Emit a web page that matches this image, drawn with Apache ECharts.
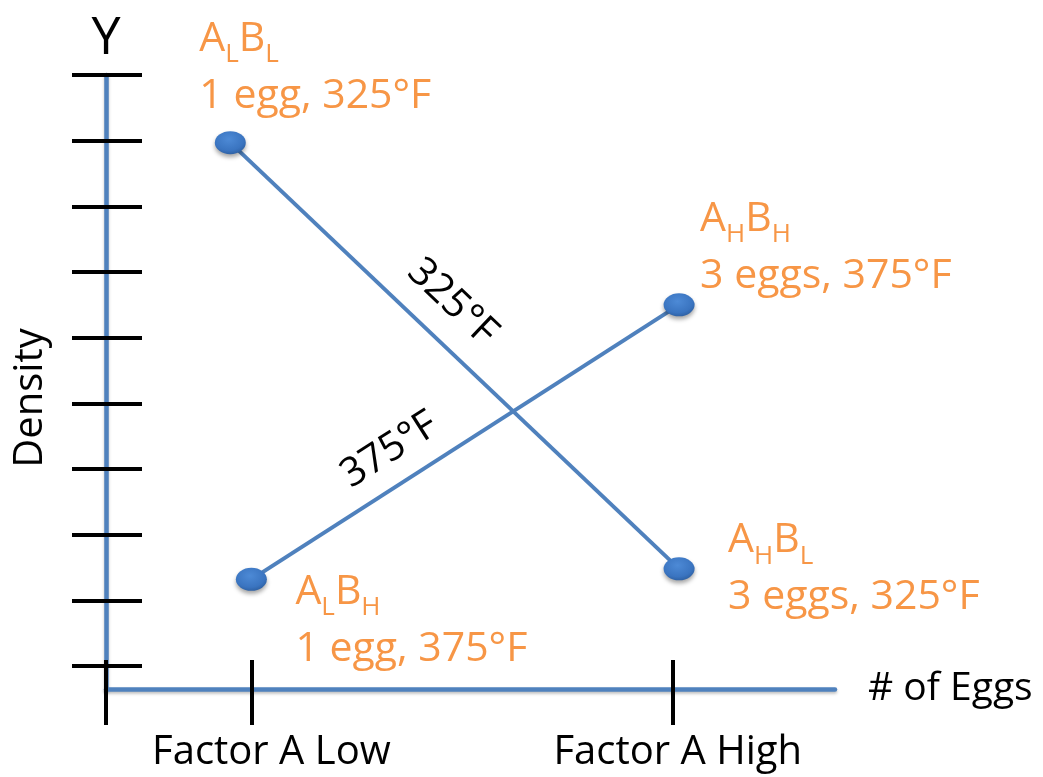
<!DOCTYPE html>
<html><head><meta charset="utf-8">
<script src="https://cdn.jsdelivr.net/npm/echarts@6/dist/echarts.min.js"></script>
<style>html,body{margin:0;padding:0;background:#fff}#c{width:1043px;height:777px}</style>
</head><body><div id="c"></div>
<script>
// ---- data ----
const categories = ['Factor A Low', 'Factor A High'];
const categoryEggs = [1, 3];
const yTicks = [0, 1, 2, 3, 4, 5, 6, 7, 8, 9];
const xTicks = [0.31, 1, 3];
const temps = ['325°F', '375°F'];

const x325 = [0.90, 3.03];
const y325 = [7.97, 1.48];
const subA325 = ['L', 'H'];
const subB325 = ['L', 'L'];
const desc325 = ['1 egg, 325°F', '3 eggs, 325°F'];

const x375 = [1.00, 3.03];
const y375 = [1.32, 5.50];
const subA375 = ['L', 'H'];
const subB375 = ['H', 'H'];
const desc375 = ['1 egg, 375°F', '3 eggs, 375°F'];

// ---- styles ----
const FONT = '"Open Sans", Lato, sans-serif';
const BLUE = '#4F81BD';
const ORANGE = '#F79646';
const off325 = [[-31, -132], [49, -56.5]];
const off375 = [[44, -15.5], [21, -114.5]];
const lineLabelT = [0.4375, 0.366];
const lineLabelPerp = [37, 34];

const rich = {
  m: { fontFamily: FONT, fontSize: 41, lineHeight: 57, color: ORANGE },
  s: { fontFamily: FONT, fontSize: 26, lineHeight: 57, color: ORANGE, padding: [31, 0, 0, 0] }
};

function buildData(xs, ys, sa, sb, desc, offs) {
  return xs.map((x, i) => ({
    value: [x, ys[i]],
    label: {
      show: true, position: 'inside', align: 'left', verticalAlign: 'top',
      offset: offs[i],
      formatter: '{m|A}{s|' + sa[i] + '}{m|B}{s|' + sb[i] + '}\n{m|' + desc[i] + '}',
      rich: rich
    }
  }));
}

const markerStyle = {
  color: {
    type: 'radial', x: 0.45, y: 0.35, r: 0.7,
    colorStops: [{ offset: 0, color: '#4D8AD6' }, { offset: 0.7, color: '#3A74C0' }, { offset: 1, color: '#2C5D9E' }]
  },
  shadowColor: 'rgba(0,0,0,0.35)', shadowBlur: 4, shadowOffsetY: 3
};

function lineSeries(name, data) {
  return {
    type: 'line', name: name, data: data,
    symbol: 'circle', symbolSize: [31, 23],
    itemStyle: markerStyle,
    lineStyle: { color: BLUE, width: 4 },
    emphasis: { disabled: true },
    z: 5
  };
}

const axisLineStyle = { color: BLUE, width: 4.5, shadowColor: 'rgba(0,0,0,0.25)', shadowBlur: 3, shadowOffsetY: 2 };
const tickStyle = { color: '#000', width: 4 };

const chart = echarts.init(document.getElementById('c'), null, { renderer: 'canvas' });
const option = {
  animation: false,
  backgroundColor: '#fff',
  grid: { left: 106, right: 208, top: 75, bottom: 88, containLabel: false },
  xAxis: [
    {
      type: 'value', min: xTicks[0], max: 3.77, position: 'bottom',
      axisLine: { show: true, onZero: false, lineStyle: axisLineStyle },
      axisTick: { show: true, customValues: xTicks, length: 36, lineStyle: tickStyle },
      axisLabel: {
        customValues: categoryEggs, margin: 44,
        formatter: v => { const i = categoryEggs.indexOf(v); return i === 0 ? '{lo|' + categories[0] + '}' : '{hi|' + categories[i] + '}'; },
        rich: {
          lo: { fontFamily: FONT, fontSize: 40, color: '#000', padding: [0, 0, 0, 40] },
          hi: { fontFamily: FONT, fontSize: 40, color: '#000', padding: [0, 0, 0, 10] }
        }
      },
      splitLine: { show: false },
      name: '# of Eggs', nameLocation: 'end', nameGap: 33,
      nameTextStyle: { fontFamily: FONT, fontSize: 39, color: '#000', verticalAlign: 'middle', padding: [8, 0, 0, 0] }
    },
    {
      type: 'value', min: xTicks[0], max: 3.77, position: 'bottom',
      axisLine: { show: false, onZero: false },
      axisTick: { show: true, inside: true, customValues: xTicks, length: 29, lineStyle: tickStyle },
      axisLabel: { show: false }, splitLine: { show: false }
    }
  ],
  yAxis: [
    {
      type: 'value', min: -0.35, max: 9, position: 'left',
      axisLine: { show: true, onZero: false, lineStyle: axisLineStyle },
      axisTick: { show: true, customValues: yTicks, length: 34, lineStyle: tickStyle },
      axisLabel: { show: false }, splitLine: { show: false },
      name: 'Y', nameLocation: 'end', nameGap: 10,
      nameTextStyle: { fontFamily: FONT, fontSize: 52, color: '#000' }
    },
    {
      type: 'value', min: -0.35, max: 9, position: 'left',
      axisLine: { show: false, onZero: false },
      axisTick: { show: true, inside: true, customValues: yTicks, length: 36, lineStyle: tickStyle },
      axisLabel: { show: false }, splitLine: { show: false },
      name: 'Density', nameLocation: 'middle', nameGap: 55,
      nameTextStyle: { fontFamily: FONT, fontSize: 40, color: '#000', padding: [0, 32, 0, 0] }
    }
  ],
  series: [
    lineSeries(temps[0], buildData(x325, y325, subA325, subB325, desc325, off325)),
    lineSeries(temps[1], buildData(x375, y375, subA375, subB375, desc375, off375))
  ]
};
chart.setOption(option);

// line labels placed along each line, derived from the data via the axis scales
const lines = [[x325, y325], [x375, y375]];
const graphics = lines.map((ln, k) => {
  const p0 = chart.convertToPixel({ xAxisIndex: 0, yAxisIndex: 0 }, [ln[0][0], ln[1][0]]);
  const p1 = chart.convertToPixel({ xAxisIndex: 0, yAxisIndex: 0 }, [ln[0][1], ln[1][1]]);
  const dx = p1[0] - p0[0], dy = p1[1] - p0[1];
  const len = Math.sqrt(dx * dx + dy * dy);
  const ux = dx / len, uy = dy / len;
  const nx = uy, ny = -ux;
  const t = lineLabelT[k], d = lineLabelPerp[k];
  return {
    type: 'text', z: 10,
    x: p0[0] + t * dx + d * nx,
    y: p0[1] + t * dy + d * ny,
    rotation: -Math.atan2(dy, dx),
    style: {
      text: temps[k], fill: '#000', font: '40px ' + FONT,
      align: 'center', verticalAlign: 'middle', textAlign: 'center', textVerticalAlign: 'middle'
    }
  };
});
chart.setOption({ graphic: graphics });
</script>
</body></html>
